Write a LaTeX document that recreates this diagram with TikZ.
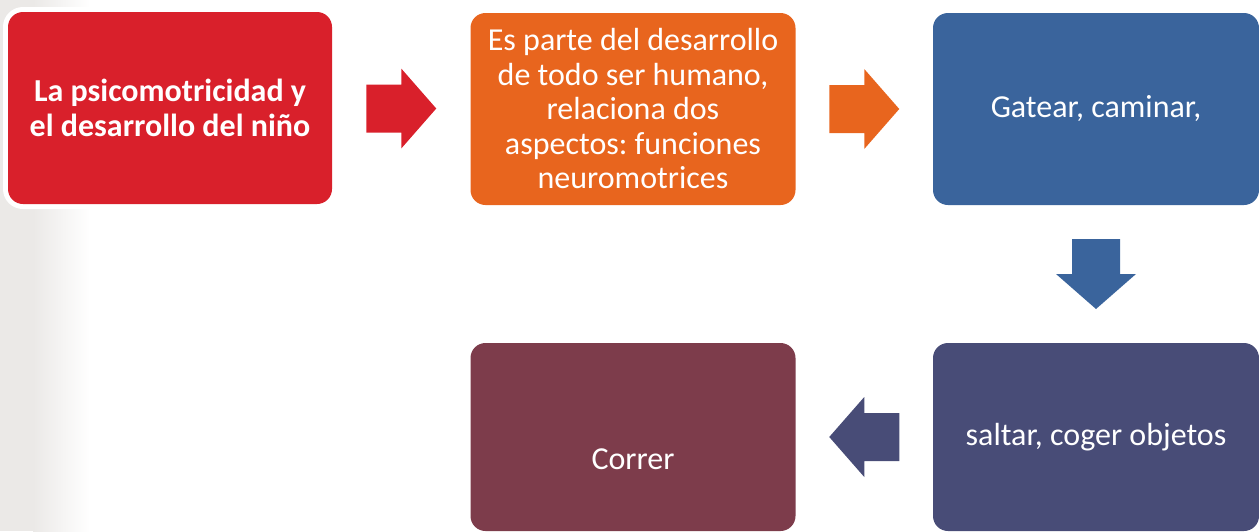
\documentclass[tikz,border=0pt]{standalone}
\usepackage{fontspec}
\setmainfont{Carlito}
\frenchspacing
\usetikzlibrary{calc, positioning}
\definecolor{psicoRed}{HTML}{D9202B}
\definecolor{partOrange}{HTML}{E8651E}
\definecolor{gateBlue}{HTML}{3A649C}
\definecolor{saltNavy}{HTML}{484C77}
\definecolor{corrMaroon}{HTML}{7D3C4B}
\definecolor{stripGray}{HTML}{EBE9E7}
\tikzset{
    stepBox/.style={rectangle, rounded corners=15pt, inner sep=0pt, align=center,
        text=white, font=\fontsize{32}{34.5}\selectfont,
        minimum width=325pt, minimum height=192pt},
    lowBox/.style={stepBox, minimum height=188pt},
    haloBox/.style={preaction={draw=white, line width=10pt}},
}
\newcommand{\drawBlockArrow}[3]{
    % #1 colour, #2 centre, #3 rotation
    \fill[#1, shift={(#2)}, rotate=#3] (-35,-24) -- (0,-24) -- (0,-40) -- (35,0)
        -- (0,40) -- (0,24) -- (-35,24) -- cycle;
}

\begin{document}
\begin{tikzpicture}[x=1pt, y=-1pt]
    \useasboundingbox (0,0) rectangle (1259,531);
    % fondo
    \fill[stripGray] (0,0) rectangle (33,531);
    \shade[left color=stripGray, right color=white] (33,0) rectangle (90,531);

    \node[stepBox, haloBox, fill=psicoRed, minimum width=324pt, font=\fontsize{32}{35}\selectfont\bfseries] (psico) at (170,108)
        {La psicomotricidad y\\el desarrollo del niño};
    \node[stepBox, fill=partOrange] (parte) at (633,109)
        {Es parte del desarrollo\\de todo ser humano,\\relaciona dos\\aspectos: funciones\\neuromotrices};
    \node[stepBox, haloBox, fill=gateBlue, minimum width=326pt] (gatear) at (1096,109) {Gatear, caminar,};
    \node[lowBox, fill=saltNavy, minimum width=326pt] (saltar) at (1096,437) {saltar, coger objetos};
    \node[lowBox, fill=corrMaroon] (correr) at (633,437) {\raisebox{-32pt}[0pt][0pt]{Correr}};

    \drawBlockArrow{psicoRed}{$(psico.east)!0.5!(parte.west)$}{0}
    \drawBlockArrow{partOrange}{$(parte.east)!0.5!(gatear.west)$}{0}
    \drawBlockArrow{gateBlue}{$(gatear.south)!0.5!(saltar.north)$}{-90}
    \drawBlockArrow{saltNavy}{$(saltar.west)!0.5!(correr.east)$}{180}
\end{tikzpicture}
\end{document}
